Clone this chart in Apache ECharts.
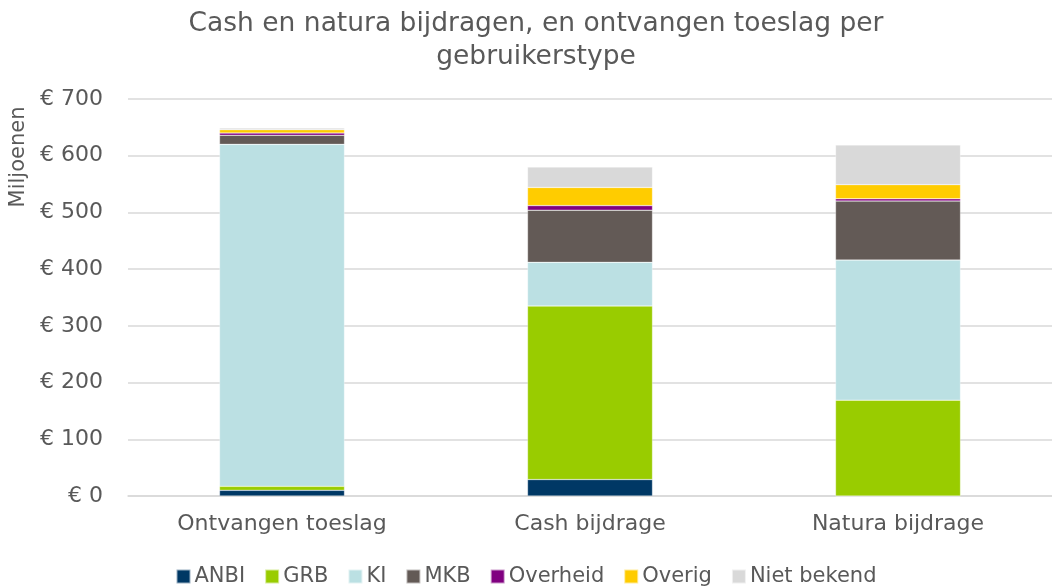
<!DOCTYPE html>
<html><head><meta charset="utf-8">
<script src="https://cdn.jsdelivr.net/npm/echarts@6/dist/echarts.min.js"></script>
<style>html,body{margin:0;padding:0;background:#fff}#c{width:1052px;height:587px}</style>
</head><body><div id="c"></div>
<script>
const categories = ['Ontvangen toeslag', 'Cash bijdrage', 'Natura bijdrage'];
const seriesNames = ['ANBI', 'GRB', 'KI', 'MKB', 'Overheid', 'Overig', 'Niet bekend'];
const anbi = [10, 29, 0];
const grb = [7, 306, 169];
const ki = [603, 77, 247];
const mkb = [16, 92, 104];
const overheid = [4, 8, 4];
const overig = [6, 32, 25];
const nietBekend = [3, 36, 70];
const yTicks = [0, 100, 200, 300, 400, 500, 600, 700];
const colors = ['#003865', '#99CC00', '#BBE0E3', '#635A56', '#800080', '#FFCC00', '#D9D9D9'];
const values = [anbi, grb, ki, mkb, overheid, overig, nietBekend];
const font = 'Verdana, "DejaVu Sans", sans-serif';
const chart = echarts.init(document.getElementById('c'));
chart.setOption({
  animation: false,
  color: colors,
  title: {
    text: 'Cash en natura bijdragen, en ontvangen toeslag per\ngebruikerstype',
    left: 531, top: 3, textAlign: 'center',
    textStyle: {fontFamily: font, fontSize: 26.5, fontWeight: 'normal', color: '#595959', lineHeight: 33}
  },
  legend: {
    top: 561, left: 'center', itemWidth: 14, itemHeight: 14, itemGap: 19,
    icon: 'rect',
    textStyle: {fontFamily: font, fontSize: 21, color: '#595959', padding: [0,0,0,-1]},
    data: seriesNames
  },
  graphic: [{
    type: 'text', x: 8, y: 157, rotation: Math.PI/2,
    style: {text: 'Miljoenen', font: '21px ' + font, fill: '#595959', textAlign: 'center', textVerticalAlign: 'top'}
  }],
  grid: {left: 128, top: 99, right: 0, height: 397},
  xAxis: {
    type: 'category', data: categories,
    axisLine: {lineStyle: {color: '#D9D9D9', width: 1.5}},
    axisTick: {show: false},
    axisLabel: {fontFamily: font, fontSize: 22, color: '#595959', margin: 17}
  },
  yAxis: {
    type: 'value', min: yTicks[0], max: yTicks[yTicks.length-1], interval: 100,
    axisLine: {show: false}, axisTick: {show: false},
    splitLine: {lineStyle: {color: '#D9D9D9', width: 1.5}},
    axisLabel: {fontFamily: font, fontSize: 22, color: '#595959', margin: 25,
      formatter: v => '€ ' + v}
  },
  series: seriesNames.map((n, i) => ({
    name: n, type: 'bar', stack: 'total', barWidth: 125,
    data: values[i],
    itemStyle: {color: colors[i], borderColor: 'rgba(255,255,255,0.6)', borderWidth: 0.5}
  }))
});
</script></body></html>
